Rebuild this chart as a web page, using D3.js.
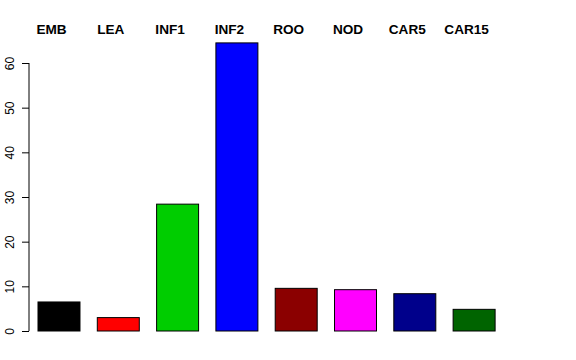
<!DOCTYPE html>
<html>
<head>
<meta charset="utf-8">
<script src="https://cdn.jsdelivr.net/npm/d3@7"></script>
<style>
body { margin: 0; background: #fff; }
svg { display: block; }
</style>
</head>
<body>
<svg id="chart" width="576" height="360"></svg>
<script>
const categories = ["EMB", "LEA", "INF1", "INF2", "ROO", "NOD", "CAR5", "CAR15"];
const values = [6.5, 3.0, 28.4, 64.5, 9.55, 9.25, 8.35, 4.85];
const colors = ["#000000", "#FF0000", "#00CD00", "#0000FF", "#8B0000", "#FF00FF", "#00008B", "#006400"];
const yTicks = [0, 10, 20, 30, 40, 50, 60];

const svg = d3.select("#chart");

const x = d3.scaleBand()
  .domain(categories)
  .range([29.1, 504])
  .paddingInner(0.292)
  .paddingOuter(0.15);

const y = d3.scaleLinear().domain([0, 60]).range([331, 63]);

svg.selectAll("rect.bar")
  .data(categories)
  .enter().append("rect")
  .attr("class", "bar")
  .attr("x", d => x(d))
  .attr("width", x.bandwidth())
  .attr("y", (d, i) => y(values[i]))
  .attr("height", (d, i) => y(0) - y(values[i]))
  .attr("fill", (d, i) => colors[i])
  .attr("stroke", "#000")
  .attr("stroke-width", 1);

const yAxis = d3.axisLeft(y).tickValues(yTicks).tickSize(7).tickFormat(d3.format("d"));
const gy = svg.append("g").attr("transform", "translate(29,0)").call(yAxis);
gy.select(".domain").attr("stroke", "#000").attr("d", `M0,${y(0)}V${y(60)}`);
gy.selectAll(".tick line").attr("stroke", "#000");
gy.selectAll(".tick text")
  .attr("font-family", "'Liberation Sans', Arial, sans-serif")
  .attr("font-size", 12)
  .attr("fill", "#000")
  .attr("text-anchor", "middle")
  .attr("x", null)
  .attr("dy", null)
  .attr("transform", "translate(-15,0) rotate(-90)");

svg.selectAll("text.cat")
  .data(categories)
  .enter().append("text")
  .attr("class", "cat")
  .attr("x", d => x(d) + x.bandwidth() / 2 - 7.5)
  .attr("y", 34)
  .attr("text-anchor", "middle")
  .attr("font-family", "'Liberation Sans', Arial, sans-serif")
  .attr("font-weight", "bold")
  .attr("font-size", 13.6)
  .attr("fill", "#000")
  .text(d => d);
</script>
</body>
</html>
